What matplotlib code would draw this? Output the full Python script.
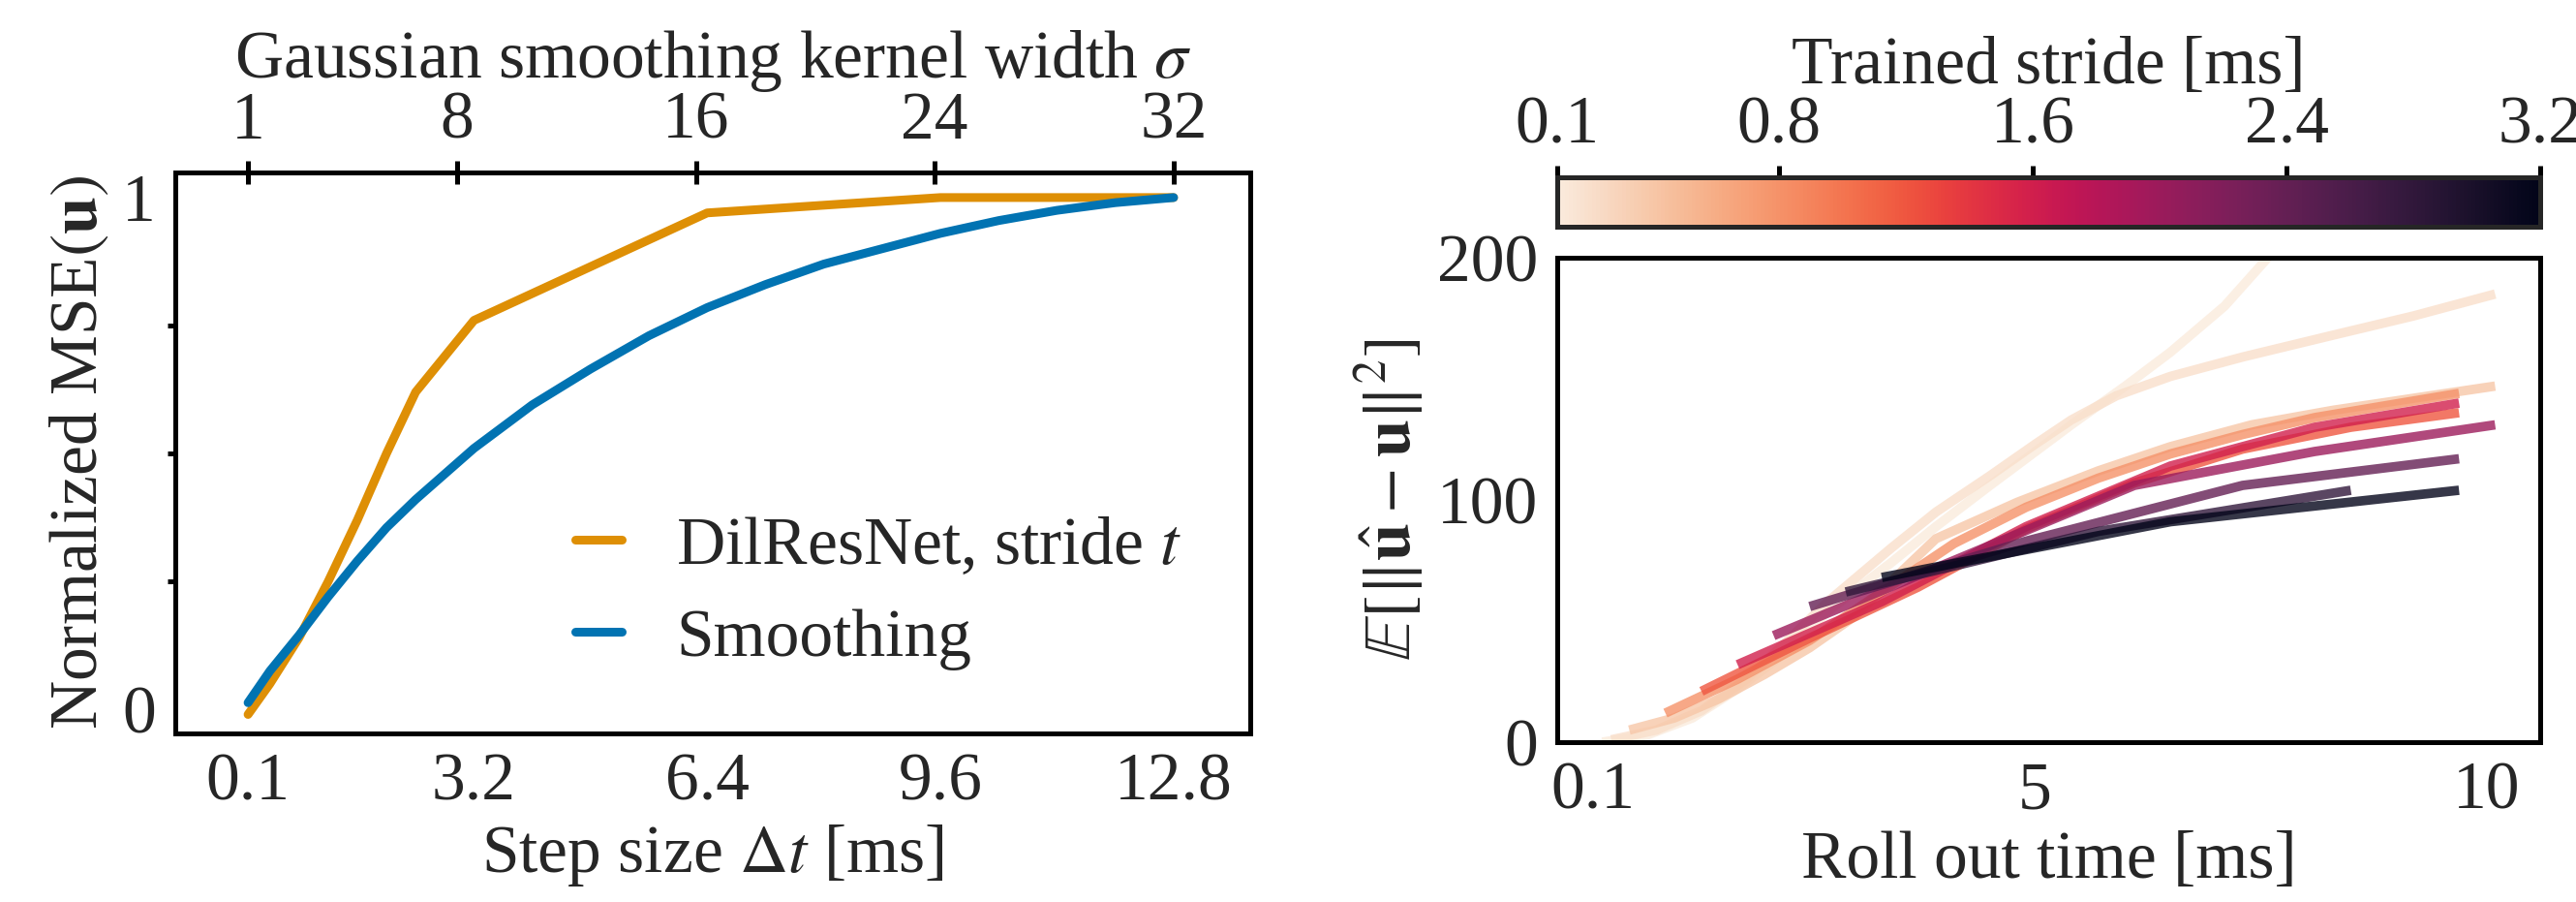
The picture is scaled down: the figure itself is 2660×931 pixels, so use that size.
import matplotlib
matplotlib.use('Agg')
import matplotlib.pyplot as plt
import matplotlib.colors as mcolors
import numpy as np
import seaborn as sns

# left panel: normalized MSE vs step size
dil_dt = [0.1, 0.4, 0.8, 1.2, 1.6, 2.0, 2.4, 3.2, 6.4, 9.6, 12.8]
dil_mse = [-0.01, 0.05, 0.14, 0.25, 0.37, 0.50, 0.62, 0.76, 0.97, 1.0, 1.0]
smooth_dt = [0.1, 0.4, 0.8, 1.2, 1.6, 2.0, 2.4, 2.8, 3.2, 4.0, 4.8, 5.6, 6.4, 7.2, 8.0, 8.8, 9.6,
             10.4, 11.2, 12.0, 12.8]
smooth_mse = [0.013, 0.075, 0.145, 0.22, 0.29, 0.355, 0.41, 0.46, 0.51, 0.595, 0.665, 0.73, 0.785,
              0.83, 0.87, 0.90, 0.93, 0.955, 0.975, 0.99, 1.0]
dt_ticks = [0.1, 3.2, 6.4, 9.6, 12.8]
sigma_ticks = [1, 8, 16, 24, 32]

# right panel: rollout error for each trained stride
strides = [0.1, 0.2, 0.4, 0.8, 1.2, 1.6, 2.0, 2.4, 2.8, 3.2]
roll_t = [
    [0.2, 0.7, 1.2, 1.7, 2.2, 2.7, 3.4, 3.9, 4.5, 5.4, 6.0, 6.5, 7.1, 7.7],
    [0.3, 0.8, 1.3, 1.8, 2.2, 2.7, 3.4, 3.9, 4.5, 5.0, 5.4, 5.9, 6.5, 7.3, 8.3, 9.2, 10.1],
    [0.5, 1.0, 1.5, 2.0, 2.5, 3.0, 3.9, 4.8, 5.7, 6.5, 7.4, 8.3, 9.2, 10.1],
    [0.9, 1.7, 2.5, 3.3, 4.1, 4.9, 5.7, 6.5, 7.3, 8.1, 8.9, 9.7],
    [1.3, 2.5, 3.7, 4.9, 6.1, 7.3, 8.5, 9.7],
    [1.7, 3.3, 4.9, 6.5, 8.1, 9.7],
    [2.1, 4.1, 6.1, 8.1, 10.1],
    [2.5, 4.9, 7.3, 9.7],
    [2.9, 5.7, 8.5],
    [3.3, 6.5, 9.7],
]
roll_err = [
    [0, 3, 10, 22, 36, 54, 74, 89, 106, 131, 147, 161, 180, 205],
    [1, 5, 13, 26, 40, 58, 80, 95, 110, 123, 133, 143, 151, 159, 168, 176, 185],
    [5, 10, 18, 28, 39, 52, 84, 99, 112, 122, 131, 137, 142, 147],
    [12, 26, 42, 62, 82, 97, 109, 119, 127, 134, 139, 144],
    [21, 43, 64, 88, 107, 121, 130, 136],
    [32, 58, 89, 114, 130, 140],
    [44, 75, 106, 120, 131],
    [56, 83, 106, 117],
    [62, 87, 104],
    [68, 91, 104],
]
stride_ticks = [0.1, 0.8, 1.6, 2.4, 3.2]

sns.set_style('white')
plt.rcParams['font.family'] = 'serif'
plt.rcParams['font.serif'] = ['Liberation Serif', 'DejaVu Serif']
plt.rcParams['mathtext.fontset'] = 'stix'
plt.rcParams['font.size'] = 50
plt.rcParams['axes.linewidth'] = 3.6

tick_kw = dict(direction='inout', length=17, width=3.6, labelsize=50, color='k')

fig = plt.figure(figsize=(26.6, 9.31), dpi=100)
ax1 = fig.add_axes([0.0680, 0.1869, 0.4173, 0.6219])
ax2 = fig.add_axes([0.6045, 0.1772, 0.3816, 0.5371])
cax = fig.add_axes([0.6045, 0.7487, 0.3816, 0.0547])

for a in (ax1, ax2, cax):
    for sp in a.spines.values():
        sp.set_color('k')
        sp.set_linewidth(3.6)

# left
ax1.plot(dil_dt, dil_mse, color='#DE8F05', lw=6.5, label='DilResNet, stride $t$')
ax1.plot(smooth_dt, smooth_mse, color='#0173B2', lw=6.5, label='Smoothing')
ax1.set_xlim(-0.9, 13.85)
ax1.set_ylim(-0.047, 1.049)
ax1.set_xticks(dt_ticks)
ax1.set_xticklabels([str(v) for v in dt_ticks])
ax1.set_yticks([0, 1])
ax1.set_yticks([0.25, 0.5, 0.75], minor=True)
ax1.tick_params(axis='both', which='major', pad=6, **tick_kw)
ax1.tick_params(axis='y', which='minor', direction='out', length=6, width=3.6, color='k', left=True)
ax1.set_xlabel(r'Step size $\Delta t$ [ms]', labelpad=6)
ax1.set_ylabel(r'Normalized MSE$(\mathbf{u})$', labelpad=8)
ax1.legend(loc='center left', bbox_to_anchor=(0.372, 0.25), frameon=False, borderaxespad=0,
           borderpad=0, handlelength=0.7, handletextpad=0.8, labelspacing=0.45, fontsize=50)


def dt_to_sigma(x):
    return 1 + (np.asarray(x) - 0.1) * 31 / 12.7


def sigma_to_dt(s):
    return 0.1 + (np.asarray(s) - 1) * 12.7 / 31


top = ax1.secondary_xaxis('top', functions=(dt_to_sigma, sigma_to_dt))
top.set_xticks(sigma_ticks)
top.tick_params(axis='x', pad=6, **tick_kw)
top.set_xlabel(r'Gaussian smoothing kernel width $\sigma$', labelpad=10)

# right
cmap = sns.color_palette('rocket_r', as_cmap=True)
norm = mcolors.Normalize(vmin=0.1, vmax=3.2)
for s, t, e in zip(strides, roll_t, roll_err):
    ax2.plot(t, e, color=cmap(norm(s)), lw=7, alpha=0.8, solid_capstyle='butt')
ax2.set_xlim(-0.3, 10.6)
ax2.set_ylim(0, 200)
ax2.set_xticks([0.1, 5, 10])
ax2.set_xticklabels(['0.1', '5', '10'])
ax2.set_yticks([0, 100, 200])
ax2.tick_params(axis='both', pad=6, **tick_kw)
ax2.set_xlabel('Roll out time [ms]', labelpad=6)
ax2.set_ylabel(r'$\mathbb{E}[\|\hat{\mathbf{u}}-\mathbf{u}\|^2]$', labelpad=8)

sm = plt.cm.ScalarMappable(norm=norm, cmap=cmap)
cb = fig.colorbar(sm, cax=cax, orientation='horizontal')
cb.outline.set_linewidth(3.6)
cb.set_ticks(stride_ticks)
cb.set_ticklabels([str(v) for v in stride_ticks])
cax.xaxis.set_ticks_position('top')
cax.xaxis.set_label_position('top')
cax.tick_params(axis='x', pad=6, **tick_kw)
cb.set_label('Trained stride [ms]', labelpad=10, fontsize=50)

fig.savefig('out.png', dpi=100)
